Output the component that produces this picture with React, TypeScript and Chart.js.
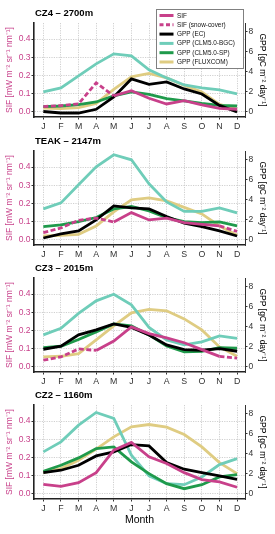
import React, { useEffect, useRef } from 'react';
import { Chart, registerables } from 'chart.js';
Chart.register(...registerables);

const MONTHS = ['J', 'F', 'M', 'A', 'M', 'J', 'J', 'A', 'S', 'O', 'N', 'D'];
const SIF_TICKS = [0, 0.1, 0.2, 0.3, 0.4];
const GPP_TICKS = [0, 2, 4, 6, 8];

// CZ4 - 2700m
const cz4Sif = [null, null, null, null, 0.088, 0.117, 0.075, 0.044, 0.062, 0.039, 0.02, 0.015];
const cz4SifSnow = [0.03, 0.035, 0.045, 0.16, 0.088, null, null, null, null, null, null, null];
const cz4Ec = [0.05, -0.1, -0.1, 0.27, 1.5, 3.3, 2.75, 3.0, 2.3, 1.8, 0.66, 0.0];
const cz4Bgc = [2.0, 2.4, 3.6, 4.8, 5.8, 5.6, 4.2, 3.4, 2.7, 2.4, 2.2, 1.8];
const cz4Sp = [0.53, 0.6, 0.73, 1.0, 1.6, 2.0, 1.76, 1.33, 1.1, 0.86, 0.66, 0.6];
const cz4Flux = [0.4, 0.33, 0.43, 0.86, 2.26, 3.5, 3.85, 3.4, 2.65, 2.0, 0.76, 0.27];

// TEAK - 2147m
const teakSif = [null, null, null, null, 0.099, 0.15, 0.11, 0.12, 0.095, 0.086, 0.077, null];
const teakSifSnow = [0.04, 0.066, 0.108, 0.12, 0.099, null, null, null, null, null, 0.077, 0.047];
const teakEc = [0.2, 0.6, 0.9, 2.0, 3.4, 3.2, 3.1, 2.34, 1.67, 1.34, 0.9, 0.4];
const teakBgc = [3.1, 3.7, 5.5, 7.3, 8.5, 8.0, 5.6, 3.8, 2.85, 2.85, 3.2, 2.7];
const teakSp = [1.34, 1.5, 1.84, 2.24, 3.1, 3.34, 2.9, 2.24, 1.84, 1.74, 1.8, 1.4];
const teakFlux = [0.4, 0.47, 0.57, 1.4, 2.8, 4.0, 4.2, 3.9, 3.25, 2.6, 1.4, 0.47];

// CZ3 - 2015m
const cz3Sif = [null, null, null, 0.091, 0.142, 0.22, 0.183, 0.16, 0.133, 0.095, 0.058, null];
const cz3SifSnow = [0.037, 0.055, 0.099, 0.091, null, null, null, null, null, null, 0.058, 0.049];
const cz3Ec = [1.77, 2.07, 3.2, 3.7, 4.3, 3.95, 3.2, 2.2, 1.74, 1.67, 1.84, 1.57];
const cz3Bgc = [3.2, 3.85, 5.35, 6.6, 7.25, 6.2, 3.95, 2.7, 2.2, 2.5, 3.1, 2.85];
const cz3Sp = [1.94, 2.07, 2.74, 3.5, 4.3, 4.1, 3.2, 2.1, 1.5, 1.57, 1.94, 1.87];
const cz3Flux = [1.0, 1.07, 1.34, 2.7, 4.1, 5.4, 5.75, 5.6, 4.8, 3.7, 2.0, 1.07];

// CZ2 - 1160m
const cz2Sif = [0.053, 0.042, 0.062, 0.117, 0.24, 0.283, 0.204, 0.167, 0.117, 0.079, 0.066, 0.037];
const cz2SifSnow = [null, null, null, null, null, null, null, null, null, null, null, null];
const cz2Ec = [2.13, 2.37, 2.87, 3.8, 4.2, 4.93, 4.8, 3.13, 2.47, 2.13, 1.8, 1.47];
const cz2Bgc = [4.2, 5.2, 6.87, 8.13, 7.53, 3.87, 1.8, 1.03, 0.93, 1.7, 2.93, 3.53];
const cz2Sp = [2.27, 2.87, 3.6, 4.53, 4.7, 3.2, 2.03, 1.03, 0.53, 0.93, 1.7, 1.93];
const cz2Flux = [2.13, 2.53, 3.37, 4.47, 5.7, 6.7, 6.93, 6.67, 5.93, 4.7, 3.13, 2.03];

const PANELS = [
  { title: 'CZ4 \u2013 2700m', sif: cz4Sif, snow: cz4SifSnow, ec: cz4Ec, bgc: cz4Bgc, sp: cz4Sp, flux: cz4Flux },
  { title: 'TEAK \u2013 2147m', sif: teakSif, snow: teakSifSnow, ec: teakEc, bgc: teakBgc, sp: teakSp, flux: teakFlux },
  { title: 'CZ3 \u2013 2015m', sif: cz3Sif, snow: cz3SifSnow, ec: cz3Ec, bgc: cz3Bgc, sp: cz3Sp, flux: cz3Flux },
  { title: 'CZ2 \u2013 1160m', sif: cz2Sif, snow: cz2SifSnow, ec: cz2Ec, bgc: cz2Bgc, sp: cz2Sp, flux: cz2Flux },
];

const PINK = '#c8408a';
const TEAL = '#6fcdb9';
const GREEN = '#1f9a4b';
const KHAKI = '#dfcc82';
const BLACK = '#000000';
const FONT = "'Liberation Sans', Arial, Helvetica, sans-serif";

const LEGEND = [
  { label: 'SIF', color: PINK, dash: [] as number[] },
  { label: 'SIF (snow-cover)', color: PINK, dash: [4, 2.5] },
  { label: 'GPP (EC)', color: BLACK, dash: [] },
  { label: 'GPP (CLM5.0-BGC)', color: TEAL, dash: [] },
  { label: 'GPP (CLM5.0-SP)', color: GREEN, dash: [] },
  { label: 'GPP (FLUXCOM)', color: KHAKI, dash: [] },
];

const SIF_MIN = -0.0274;
const SIF_MAX = 0.4877;
const K = 18.2;
const AREA_BOTTOM = 117;

const toPts = (arr: (number | null)[]) => arr.map((v, i) => ({ x: i + 1, y: v }));

function Panel({ idx, top, height }: { idx: number; top: number; height: number }) {
  const ref = useRef<HTMLCanvasElement>(null);
  const p = PANELS[idx];
  const first = idx === 0;
  const last = idx === PANELS.length - 1;
  useEffect(() => {
    const line = (data: (number | null)[], color: string, axis: string, dash: number[] = []) => ({
      data: toPts(data),
      borderColor: color,
      backgroundColor: color,
      borderWidth: 2.8,
      borderDash: dash,
      pointRadius: 0,
      tension: 0,
      fill: false,
      spanGaps: false,
      yAxisID: axis,
    });
    const titlePlugin = {
      id: 'panelTitle',
      afterDraw(chart: any) {
        const ctx = chart.ctx;
        ctx.save();
        ctx.fillStyle = '#000';
        ctx.font = `bold 9.5px ${FONT}`;
        ctx.textBaseline = 'middle';
        ctx.textAlign = 'left';
        ctx.fillText(p.title, 35, 13.5);
        ctx.restore();
      },
    };
    const legendPlugin = {
      id: 'boxLegend',
      afterDraw(chart: any) {
        if (!first) return;
        const ctx = chart.ctx;
        ctx.save();
        const x0 = 156.5, y0 = 9.5, w = 87, h = 59;
        ctx.fillStyle = '#fff';
        ctx.fillRect(x0, y0, w, h);
        ctx.strokeStyle = '#808080';
        ctx.lineWidth = 1;
        ctx.strokeRect(x0, y0, w, h);
        LEGEND.forEach((it, i) => {
          const y = 15.5 + i * 9.3;
          ctx.strokeStyle = it.color;
          ctx.lineWidth = 3;
          ctx.setLineDash(it.dash);
          ctx.beginPath();
          ctx.moveTo(159.5, y);
          ctx.lineTo(173.5, y);
          ctx.stroke();
          ctx.setLineDash([]);
          ctx.fillStyle = '#111';
          ctx.font = `6.4px ${FONT}`;
          ctx.textBaseline = 'middle';
          ctx.textAlign = 'left';
          ctx.fillText(it.label, 177, y + 0.3);
        });
        ctx.restore();
      },
    };
    const gridCommon = {
      color: '#c4c4c4',
      lineWidth: 0.8,
      tickLength: 2.5,
      tickColor: '#333',
      tickWidth: 1,
    };
    const chart = new Chart(ref.current as HTMLCanvasElement, {
      type: 'line',
      data: {
        datasets: [
          line(p.sif, PINK, 'y'),
          line(p.snow, PINK, 'y', [5, 2.5]),
          line(p.ec, BLACK, 'y2'),
          line(p.sp, GREEN, 'y2'),
          line(p.bgc, TEAL, 'y2'),
          line(p.flux, KHAKI, 'y2'),
        ] as any,
      },
      options: {
        animation: false,
        responsive: false,
        devicePixelRatio: 1,
        events: [],
        layout: { padding: { top: 23, left: 0, right: 0, bottom: 0 } },
        plugins: { legend: { display: false }, tooltip: { enabled: false }, title: { display: false } },
        scales: {
          x: {
            type: 'linear',
            position: 'bottom',
            min: 0.47,
            max: 12.45,
            afterBuildTicks: (s: any) => {
              s.ticks = MONTHS.map((_, i) => ({ value: i + 1 }));
            },
            afterFit: (s: any) => {
              s.height = height - AREA_BOTTOM;
            },
            ticks: {
              callback: (v: any) => MONTHS[Math.round(v) - 1],
              color: '#333',
              font: { family: FONT, size: 8.8 },
              padding: 1.5,
              maxRotation: 0,
              autoSkip: false,
            },
            grid: gridCommon,
            border: { display: true, color: '#222', width: 1.6, dash: [1.2, 1.2] },
            title: last
              ? { display: true, text: 'Month', color: '#000', font: { family: FONT, size: 10.5 }, padding: { top: 0, bottom: 7.5 } }
              : { display: false },
          },
          y: {
            type: 'linear',
            position: 'left',
            min: SIF_MIN,
            max: SIF_MAX,
            afterBuildTicks: (s: any) => {
              s.ticks = SIF_TICKS.map((v) => ({ value: v }));
            },
            afterFit: (s: any) => {
              s.width = 34;
            },
            ticks: {
              callback: (v: any) => Number(v).toFixed(1),
              color: PINK,
              font: { family: FONT, size: 8.5 },
              padding: 1,
            },
            grid: gridCommon,
            border: { display: true, color: '#222', width: 1.6, dash: [1.2, 1.2] },
            title: {
              display: true,
              text: 'SIF [mW m\u207B\u00B2 sr\u207B\u00B9 nm\u207B\u00B9]',
              color: PINK,
              font: { family: FONT, size: 8.5 },
              padding: { top: 4.5, bottom: 0 },
            },
          },
          y2: {
            type: 'linear',
            position: 'right',
            min: SIF_MIN * K,
            max: SIF_MAX * K,
            afterBuildTicks: (s: any) => {
              s.ticks = GPP_TICKS.map((v) => ({ value: v }));
            },
            afterFit: (s: any) => {
              s.width = 30;
            },
            ticks: {
              callback: (v: any) => String(v),
              color: '#333',
              font: { family: FONT, size: 8.5 },
              padding: 1,
            },
            grid: { ...gridCommon, drawOnChartArea: false },
            border: { display: true, color: '#333', width: 1 },
            title: {
              display: true,
              text: 'GPP [gC m\u207B\u00B2 day\u207B\u00B9]',
              color: '#000',
              font: { family: FONT, size: 8.5 },
              padding: { top: 7.5, bottom: 0 },
            },
          },
        },
      } as any,
      plugins: [titlePlugin, legendPlugin],
    });
    return () => chart.destroy();
  }, []);
  return (
    <canvas
      ref={ref}
      width={275}
      height={height}
      style={{ position: 'absolute', left: 0, top, width: 275, height, display: 'block' }}
    />
  );
}

export default function App() {
  const tops = [0, 128, 255, 382];
  return (
    <div style={{ position: 'absolute', left: 0, top: 0, width: 275, height: 534, background: '#fff', overflow: 'hidden' }}>
      {tops.map((t, i) => (
        <Panel key={i} idx={i} top={t} height={i === 3 ? 534 - t : 140} />
      ))}
    </div>
  );
}
